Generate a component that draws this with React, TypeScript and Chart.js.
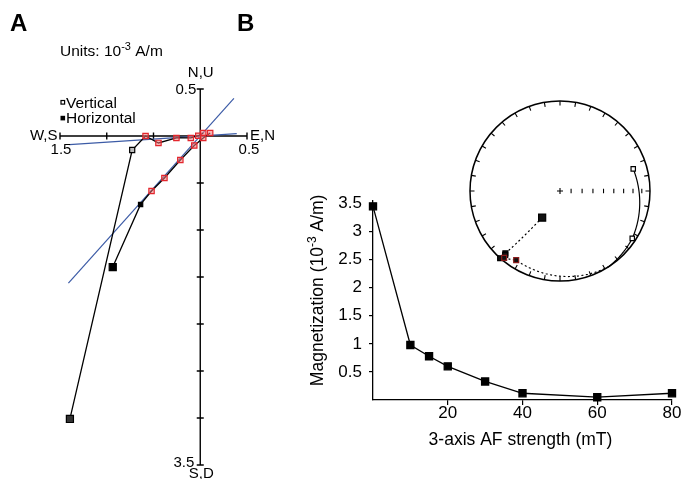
import React, { useEffect, useRef } from "react";
import { Chart, registerables } from "chart.js";

Chart.register(...registerables);

const FONT = '"Liberation Sans", Arial, Helvetica, sans-serif';

// AF demagnetization steps (mT) and total magnetization (10^-3 A/m)
const afSteps = [0, 10, 15, 20, 30, 40, 60, 80];
const magnetization = [3.45, 0.98, 0.78, 0.6, 0.33, 0.12, 0.05, 0.12];

// Orthogonal components of each step (10^-3 A/m)
const eastComp = [-0.936, -0.638, -0.521, -0.383, -0.213, -0.064, 0.032, 0.106];
const northComp = [-1.394, -0.728, -0.585, -0.447, -0.255, -0.101, -0.021, 0.032];
const upComp = [-3.01, -0.149, 0.0, -0.074, -0.021, -0.021, 0.003, 0.032];

// Fitted directions (line end points)
const fitHorizontalX = [-1.41, 0.36];
const fitHorizontalY = [-1.565, 0.4];
const fitVerticalX = [-1.4, 0.39];
const fitVerticalY = [-0.091, 0.025];

// Zijderveld axes
const zijXRange = [-1.5, 0.5];
const zijYRange = [-3.5, 0.5];
const zijXTicks = [-1.5, -1, -0.5, 0.5];
const zijYTicks = [0.5, -0.5, -1, -1.5, -2, -2.5, -3, -3.5];

// Magnetization axes
const magXTicks = [20, 40, 60, 80];
const magYTicks = [0.5, 1, 1.5, 2, 2.5, 3, 3.5];

// Stereonet inclination ticks along the east radius
const stereoIncTicks = [10, 20, 30, 40, 50, 60, 70, 80];

type Part = { t: string; size: number; dy?: number; weight?: string };

function richText(ctx: CanvasRenderingContext2D, parts: Part[], x: number, y: number, align: "left" | "center" | "right") {
  const widths = parts.map((p) => {
    ctx.font = `${p.weight || "normal"} ${p.size}px ${FONT}`;
    return ctx.measureText(p.t).width;
  });
  const total = widths.reduce((a, b) => a + b, 0);
  let cx = align === "center" ? x - total / 2 : align === "right" ? x - total : x;
  ctx.textAlign = "left";
  ctx.textBaseline = "alphabetic";
  ctx.fillStyle = "#000";
  parts.forEach((p, i) => {
    ctx.font = `${p.weight || "normal"} ${p.size}px ${FONT}`;
    ctx.fillText(p.t, cx, y + (p.dy || 0));
    cx += widths[i];
  });
}

function dirVectors() {
  return afSteps.map((_, i) => {
    const n = northComp[i];
    const e = eastComp[i];
    const d = -upComp[i];
    const m = Math.hypot(n, e, d);
    return [n / m, e / m, d / m];
  });
}

function projectDir(v: number[]) {
  const [n, e, d] = v;
  const h = Math.hypot(n, e) || 1e-9;
  const r = Math.sqrt(Math.max(0, 1 - Math.abs(d)));
  return { x: (r * e) / h, y: (r * n) / h, lower: d >= 0 };
}

const zijPlugin = {
  id: "zijAxes",
  beforeDatasetsDraw(chart: any) {
    const { ctx } = chart;
    const xs = chart.scales.x;
    const ys = chart.scales.y;
    const x0 = xs.getPixelForValue(0);
    const y0 = ys.getPixelForValue(0);
    ctx.save();
    ctx.strokeStyle = "#000";
    ctx.lineWidth = 1.4;
    ctx.beginPath();
    ctx.moveTo(xs.getPixelForValue(zijXRange[0]), y0);
    ctx.lineTo(xs.getPixelForValue(zijXRange[1]), y0);
    ctx.moveTo(x0, ys.getPixelForValue(zijYRange[1]));
    ctx.lineTo(x0, ys.getPixelForValue(zijYRange[0]));
    zijXTicks.forEach((v) => {
      const p = xs.getPixelForValue(v);
      ctx.moveTo(p, y0 - 3.5);
      ctx.lineTo(p, y0 + 3.5);
    });
    zijYTicks.forEach((v) => {
      const p = ys.getPixelForValue(v);
      ctx.moveTo(x0 - 3.5, p);
      ctx.lineTo(x0 + 3.5, p);
    });
    ctx.stroke();
    ctx.restore();
  },
  afterDraw(chart: any) {
    const { ctx } = chart;
    const xs = chart.scales.x;
    const ys = chart.scales.y;
    const x0 = xs.getPixelForValue(0);
    const y0 = ys.getPixelForValue(0);
    const xl = xs.getPixelForValue(zijXRange[0]);
    const xr = xs.getPixelForValue(zijXRange[1]);
    const yt = ys.getPixelForValue(zijYRange[1]);
    const yb = ys.getPixelForValue(zijYRange[0]);
    ctx.save();
    richText(ctx, [{ t: "A", size: 24, weight: "bold" }], 10, 31, "left");
    richText(ctx, [{ t: "B", size: 24, weight: "bold" }], 237, 31, "left");
    richText(ctx, [{ t: "Units: 10", size: 15.5 }, { t: "-3", size: 11, dy: -6 }, { t: " A/m", size: 15.5 }], 60, 55.5, "left");
    // legend
    ctx.lineWidth = 1.2;
    ctx.strokeStyle = "#000";
    ctx.strokeRect(61, 100.5, 3.6, 3.6);
    ctx.fillStyle = "#000";
    ctx.fillRect(60.5, 115.8, 4.6, 4.6);
    richText(ctx, [{ t: "Vertical", size: 15.5 }], 66, 107.7, "left");
    richText(ctx, [{ t: "Horizontal", size: 15.5 }], 66, 123.3, "left");
    // axis labels
    richText(ctx, [{ t: "W,S", size: 15 }], xl - 2.5, y0 + 3.7, "right");
    richText(ctx, [{ t: "1.5", size: 15 }], xl + 1, y0 + 17.5, "center");
    richText(ctx, [{ t: "E,N", size: 15 }], xr + 3, y0 + 3.7, "left");
    richText(ctx, [{ t: "0.5", size: 15 }], xr + 2, y0 + 17.5, "center");
    richText(ctx, [{ t: "N,U", size: 15 }], x0 + 0.5, yt - 12.5, "center");
    richText(ctx, [{ t: "0.5", size: 15 }], x0 - 4, yt + 4.5, "right");
    richText(ctx, [{ t: "3.5", size: 15 }], x0 - 6, yb + 1.5, "right");
    richText(ctx, [{ t: "S,D", size: 15 }], x0 + 1, yb + 13, "center");
    ctx.restore();
  },
};

const magTitlesPlugin = {
  id: "magTitles",
  afterDraw(chart: any) {
    const { ctx, chartArea } = chart;
    ctx.save();
    richText(ctx, [{ t: "3-axis AF strength (mT)", size: 17.5 }], (chartArea.left + chartArea.right) / 2 - 2, 265, "center");
    ctx.translate(32.5, (chartArea.top + chartArea.bottom) / 2 - 10);
    ctx.rotate(-Math.PI / 2);
    richText(
      ctx,
      [{ t: "Magnetization (10", size: 17.5 }, { t: "-3", size: 12, dy: -7 }, { t: " A/m)", size: 17.5 }],
      0,
      0,
      "center"
    );
    ctx.restore();
  },
};

const stereoPlugin = {
  id: "stereo",
  beforeDatasetsDraw(chart: any) {
    const { ctx } = chart;
    const xs = chart.scales.x;
    const ys = chart.scales.y;
    const cx = xs.getPixelForValue(0);
    const cy = ys.getPixelForValue(0);
    const R = xs.getPixelForValue(1) - cx;
    ctx.save();
    ctx.strokeStyle = "#000";
    ctx.lineWidth = 1.5;
    ctx.beginPath();
    ctx.arc(cx, cy, R, 0, Math.PI * 2);
    ctx.stroke();
    ctx.lineWidth = 1.1;
    ctx.beginPath();
    for (let a = 0; a < 360; a += 10) {
      const t = (a * Math.PI) / 180;
      const sx = Math.sin(t);
      const sy = -Math.cos(t);
      ctx.moveTo(cx + sx * R, cy + sy * R);
      ctx.lineTo(cx + sx * (R - 4.5), cy + sy * (R - 4.5));
    }
    ctx.moveTo(cx - 3, cy);
    ctx.lineTo(cx + 3, cy);
    ctx.moveTo(cx, cy - 3);
    ctx.lineTo(cx, cy + 3);
    stereoIncTicks.forEach((inc) => {
      const r = Math.sqrt(1 - Math.sin((inc * Math.PI) / 180));
      const px = xs.getPixelForValue(r);
      ctx.moveTo(px, cy - 2.2);
      ctx.lineTo(px, cy + 2.2);
    });
    ctx.stroke();

    // great-circle paths between successive steps
    const vecs = dirVectors();
    const segs: { lower: boolean; pts: { x: number; y: number }[] }[] = [];
    for (let i = 0; i < vecs.length - 1; i++) {
      const a = vecs[i];
      const b = vecs[i + 1];
      const dot = Math.max(-1, Math.min(1, a[0] * b[0] + a[1] * b[1] + a[2] * b[2]));
      const w = Math.acos(dot);
      const steps = 60;
      for (let k = 0; k <= steps; k++) {
        const t = k / steps;
        let v: number[];
        if (w < 1e-6) v = a;
        else {
          const s1 = Math.sin((1 - t) * w) / Math.sin(w);
          const s2 = Math.sin(t * w) / Math.sin(w);
          v = [a[0] * s1 + b[0] * s2, a[1] * s1 + b[1] * s2, a[2] * s1 + b[2] * s2];
        }
        const p = projectDir(v);
        const px = { x: xs.getPixelForValue(p.x), y: ys.getPixelForValue(p.y) };
        const last = segs[segs.length - 1];
        if (!last || last.lower !== p.lower) {
          const seg = { lower: p.lower, pts: [] as { x: number; y: number }[] };
          if (last) seg.pts.push(last.pts[last.pts.length - 1]);
          seg.pts.push(px);
          segs.push(seg);
        } else last.pts.push(px);
      }
    }
    ctx.lineWidth = 1.2;
    segs.forEach((s) => {
      ctx.setLineDash(s.lower ? [2, 2.5] : []);
      ctx.beginPath();
      s.pts.forEach((p, i) => (i === 0 ? ctx.moveTo(p.x, p.y) : ctx.lineTo(p.x, p.y)));
      ctx.stroke();
    });
    ctx.restore();
  },
};

export default function App() {
  const refA = useRef<HTMLCanvasElement>(null);
  const refB = useRef<HTMLCanvasElement>(null);
  const refS = useRef<HTMLCanvasElement>(null);

  useEffect(() => {
    const RED = "#e3262d";
    const PINK = "rgba(245,120,120,0.55)";
    const noPlugins = { legend: { display: false }, tooltip: { enabled: false } };

    const horizontalData = eastComp.map((e, i) => ({ x: e, y: northComp[i] }));
    const verticalData = northComp.map((n, i) => ({ x: n, y: upComp[i] }));

    const chartA = new Chart(refA.current as HTMLCanvasElement, {
      type: "scatter",
      data: {
        datasets: [
          {
            label: "Horizontal",
            data: horizontalData,
            showLine: true,
            borderColor: "#000",
            borderWidth: 1.3,
            pointStyle: "rect",
            pointRadius: eastComp.map((_, i) => (i === 0 ? 5 : i === 1 ? 3 : 3.8)),
            pointBackgroundColor: eastComp.map((_, i) => (i < 2 ? "#000" : PINK)),
            pointBorderColor: eastComp.map((_, i) => (i < 2 ? "#000" : RED)),
            pointBorderWidth: 1.2,
            clip: false,
          } as any,
          {
            label: "Vertical",
            data: verticalData,
            showLine: true,
            borderColor: "#000",
            borderWidth: 1.3,
            pointStyle: "rect",
            pointRadius: northComp.map((_, i) => (i === 0 ? 5 : i === 1 ? 3.6 : 3.8)),
            pointBackgroundColor: northComp.map((_, i) => (i === 0 ? "#333" : i === 1 ? "#bbb" : PINK)),
            pointBorderColor: northComp.map((_, i) => (i < 2 ? "#000" : RED)),
            pointBorderWidth: 1.2,
            clip: false,
          } as any,
          {
            label: "Horizontal fit",
            data: fitHorizontalX.map((x, i) => ({ x, y: fitHorizontalY[i] })),
            showLine: true,
            borderColor: "#3c5ba6",
            borderWidth: 1.2,
            pointRadius: 0,
            clip: false,
          } as any,
          {
            label: "Vertical fit",
            data: fitVerticalX.map((x, i) => ({ x, y: fitVerticalY[i] })),
            showLine: true,
            borderColor: "#3c5ba6",
            borderWidth: 1.2,
            pointRadius: 0,
            clip: false,
          } as any,
        ],
      },
      options: {
        animation: false,
        responsive: false,
        events: [],
        layout: { padding: { left: 60, right: 43, top: 89, bottom: 14 } },
        scales: {
          x: { type: "linear", display: false, min: zijXRange[0], max: zijXRange[1] },
          y: { type: "linear", display: false, min: zijYRange[0], max: zijYRange[1] },
        },
        plugins: noPlugins as any,
      },
      plugins: [zijPlugin],
    });

    const tickFont = { family: FONT, size: 17, lineHeight: 1 };
    const chartB = new Chart(refB.current as HTMLCanvasElement, {
      type: "scatter",
      data: {
        datasets: [
          {
            label: "Magnetization",
            data: afSteps.map((s, i) => ({ x: s, y: magnetization[i] })),
            showLine: true,
            borderColor: "#000",
            borderWidth: 1.3,
            pointStyle: "rect",
            pointRadius: 5,
            pointBackgroundColor: "#000",
            pointBorderColor: "#000",
            clip: false,
          } as any,
        ],
      },
      options: {
        animation: false,
        responsive: false,
        events: [],
        layout: { padding: { left: 0, right: 12, top: 20.7, bottom: 0 } },
        scales: {
          x: {
            type: "linear",
            min: 0,
            max: 80,
            afterBuildTicks: (s: any) => {
              s.ticks = magXTicks.map((v) => ({ value: v }));
            },
            afterFit: (s: any) => {
              s.height = 79;
            },
            ticks: { font: tickFont, color: "#000", padding: 0, maxRotation: 0, callback: (v: any) => String(v) },
            grid: { drawOnChartArea: false, tickLength: 5, color: "#000", lineWidth: 1.2 },
            border: { color: "#000", width: 1.3 },
          } as any,
          y: {
            type: "linear",
            min: 0,
            max: 3.55,
            afterBuildTicks: (s: any) => {
              s.ticks = magYTicks.map((v) => ({ value: v }));
            },
            afterFit: (s: any) => {
              s.width = 83;
            },
            ticks: { font: tickFont, color: "#000", padding: 7, callback: (v: any) => String(v) },
            grid: { drawOnChartArea: false, tickLength: 4, color: "#000", lineWidth: 1.2 },
            border: { color: "#000", width: 1.3 },
          } as any,
        },
        plugins: noPlugins as any,
      },
      plugins: [magTitlesPlugin],
    });

    const vecs = dirVectors();
    const proj = vecs.map(projectDir);
    const chartS = new Chart(refS.current as HTMLCanvasElement, {
      type: "scatter",
      data: {
        datasets: [
          {
            label: "Directions",
            data: proj.map((p) => ({ x: p.x, y: p.y })),
            pointStyle: "rect",
            pointRadius: proj.map((p, i) => (i === 0 ? 5 : p.lower ? 3.5 : 3.1)),
            pointBackgroundColor: proj.map((p) => (p.lower ? "#111" : "#fff")),
            pointBorderColor: proj.map((p, i) => (p.lower && (i === 4 || i === 5) ? "#8a1c1c" : "#000")),
            pointBorderWidth: 1.2,
            showLine: false,
            clip: false,
          } as any,
        ],
      },
      options: {
        animation: false,
        responsive: false,
        events: [],
        layout: { padding: 10 },
        scales: {
          x: { type: "linear", display: false, min: -1, max: 1 },
          y: { type: "linear", display: false, min: -1, max: 1 },
        },
        plugins: noPlugins as any,
      },
      plugins: [stereoPlugin],
    });

    return () => {
      chartA.destroy();
      chartB.destroy();
      chartS.destroy();
    };
  }, []);

  return (
    <div style={{ position: "absolute", left: 0, top: 0, width: 684, height: 479, background: "#fff", overflow: "hidden" }}>
      <canvas ref={refA} width={290} height={479} style={{ position: "absolute", left: 0, top: 0, width: 290, height: 479 }} />
      <canvas ref={refB} width={394} height={299} style={{ position: "absolute", left: 290, top: 180, width: 394, height: 299 }} />
      <canvas ref={refS} width={200} height={200} style={{ position: "absolute", left: 460, top: 91, width: 200, height: 200 }} />
    </div>
  );
}
